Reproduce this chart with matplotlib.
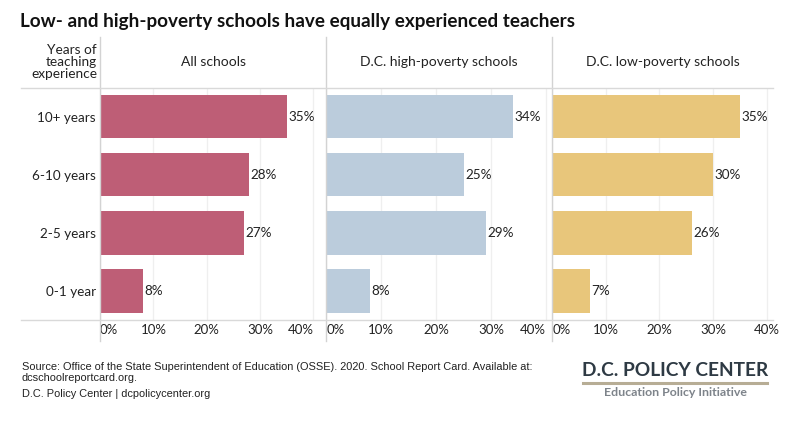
import matplotlib.pyplot as plt
from matplotlib.lines import Line2D
from matplotlib.transforms import ScaledTranslation

# data
categories = ['10+ years', '6-10 years', '2-5 years', '0-1 year']
all_schools = [35, 28, 27, 8]
high_poverty = [34, 25, 29, 8]
low_poverty = [35, 30, 26, 7]
panel_titles = ['All schools', 'D.C. high-poverty schools', 'D.C. low-poverty schools']
tick_values = [0, 10, 20, 30, 40]
tick_labels = ['0%', '10%', '20%', '30%', '40%']

colors = ['#BE5E76', '#BBCCDC', '#E8C67B']
FONT = 'Lato'
plt.rcParams['font.family'] = [FONT, 'DejaVu Sans']

W, H = 794, 432
fx = lambda x: x / W
fy = lambda y: 1 - y / H

fig = plt.figure(figsize=(W / 100, H / 100), dpi=100)

# pixel layout of the three panes: (left, right, axis max)
panes = [(100, 326.3, 42.4), (326.3, 552.3, 41.1), (552.3, 773, 41.2)]
top, bottom = 87.5, 320

series = [all_schools, high_poverty, low_poverty]
for k, ((x0, x1, xmax), vals) in enumerate(zip(panes, series)):
    ax = fig.add_axes([fx(x0), fy(bottom), (x1 - x0) / W, (bottom - top) / H])
    ypos = list(range(len(categories)))
    ax.barh(ypos, vals, height=0.75, color=colors[k], zorder=2)
    for y, v in zip(ypos, vals):
        ax.annotate(f'{v}%', (v, y), xytext=(1, 0), textcoords='offset points',
                    va='center', ha='left', fontsize=9.7, color='#222222')
    ax.set_xlim(0, xmax)
    ax.set_ylim(len(categories) - 0.5, -0.5)
    ax.set_xticks(tick_values)
    ax.set_xticklabels(tick_labels, fontsize=9.5, color='#222222')
    labels = ax.get_xticklabels()
    labels[0].set_ha('left')
    if k < 2:
        # keep the last label inside its pane, like the original
        tick_px = x0 + tick_values[-1] * (x1 - x0) / xmax
        dx = (x1 - 1.5 - tick_px) / 100
        labels[-1].set_ha('right')
        labels[-1].set_transform(labels[-1].get_transform()
                                 + ScaledTranslation(dx, 0, fig.dpi_scale_trans))
    ax.tick_params(axis='x', length=0, pad=3)
    ax.grid(axis='x', color='#EFEFEF', lw=0.9, zorder=0)
    for s in ax.spines.values():
        s.set_visible(False)
    if k == 0:
        ax.set_yticks(ypos)
        ax.set_yticklabels(categories, fontsize=9.7, color='#222222')
        ax.tick_params(axis='y', length=0, pad=3)
    else:
        ax.set_yticks([])
    fig.text(fx((x0 + x1) / 2), fy(62), panel_titles[k], ha='center', va='center',
             fontsize=10, color='#222222')

# separators and rules
for x0, _, _ in panes:
    fig.add_artist(Line2D([fx(x0), fx(x0)], [fy(37), fy(341)], color='#D3D3D3', lw=1.0))
for y in (top, bottom):
    fig.add_artist(Line2D([fx(21), fx(773)], [fy(y), fy(y)], color='#D9D9D9', lw=1.0))

fig.text(fx(97), fy(62), 'Years of\nteaching\nexperience', ha='right', va='center',
         fontsize=9.8, color='#222222', linespacing=1.0)

fig.text(fx(20), fy(22), 'Low- and high-poverty schools have equally experienced teachers',
         ha='left', va='center', fontsize=13.6, fontweight='bold', color='#111111')

foot = dict(ha='left', va='center', fontsize=7.9, color='#222222',
            family=['Liberation Sans Narrow', 'Liberation Sans'])
fig.text(fx(22), fy(367), 'Source: Office of the State Superintendent of Education (OSSE). 2020. '
         'School Report Card. Available at:', **foot)
fig.text(fx(22), fy(378), 'dcschoolreportcard.org.', **foot)
fig.text(fx(22), fy(394), 'D.C. Policy Center | dcpolicycenter.org', **foot)

# logo
fig.text(fx(675), fy(370), 'D.C. POLICY CENTER', ha='center', va='center', fontsize=13.8,
         fontweight='bold', color='#2E3A44')
fig.add_artist(Line2D([fx(583), fx(767)], [fy(382.5), fy(382.5)], color='#B7AD95', lw=2.2))
fig.text(fx(675), fy(393), 'Education Policy Initiative', ha='center', va='center',
         fontsize=8.9, fontweight='bold', color='#7D838A')

fig.savefig('out.png', dpi=100, facecolor='white')
